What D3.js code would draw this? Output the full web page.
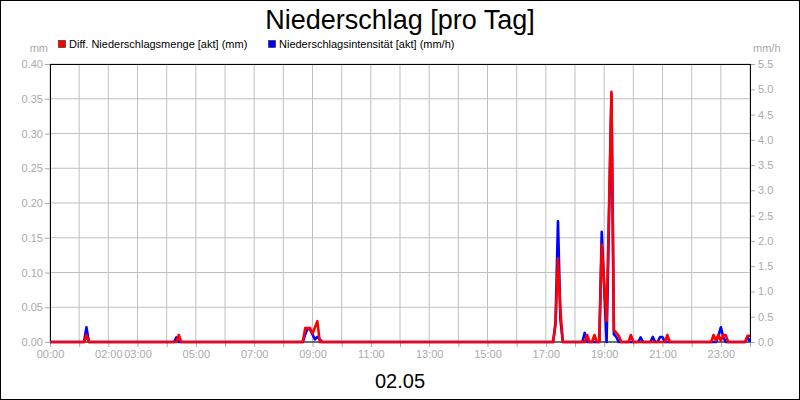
<!DOCTYPE html>
<html>
<head>
<meta charset="utf-8">
<script src="https://cdn.jsdelivr.net/npm/d3@7"></script>
<style>
  body { margin: 0; background: #fff; }
  svg { display: block; font-family: "Liberation Sans", Arial, sans-serif; }
</style>
</head>
<body>
<svg id="chart" width="800" height="400"></svg>
<script>
// Diff. Niederschlagsmenge [akt] (mm) - left axis
const redTimes = ['00:00', '01:10', '01:15', '01:20', '04:20', '04:25', '04:30',
    '08:40', '08:45', '08:50', '08:55', '09:00', '09:10', '09:15',
    '17:15', '17:20', '17:25', '17:30', '17:35',
    '18:20', '18:25', '18:30', '18:35', '18:40', '18:45', '18:50', '18:55', '19:05', '19:15',
    '19:20', '19:25', '19:30', '19:35', '19:50', '19:55', '20:00', '21:05', '21:10', '21:15',
    '22:40', '22:45', '22:50', '22:55', '23:00', '23:05', '23:10', '23:15', '23:50', '23:55', '24:00']
const redValues = [0, 0, 0.01, 0, 0, 0.01, 0,
    0, 0.02, 0.02, 0.02, 0.012, 0.03, 0,
    0, 0.025, 0.12, 0.045, 0,
    0, 0.01, 0, 0, 0.01, 0, 0, 0.14, 0.03, 0.36,
    0.017, 0.013, 0.009, 0, 0, 0.01, 0, 0, 0.01, 0,
    0, 0.01, 0.002, 0.01, 0.002, 0.01, 0.01, 0, 0, 0.009, 0.009]

// Niederschlagsintensität [akt] (mm/h) - right axis
const blueTimes = ['00:00', '01:10', '01:15', '01:20', '04:15', '04:20', '04:25',
    '08:40', '08:45', '08:50', '08:55', '09:00', '09:05', '09:10', '09:15', '09:20',
    '17:15', '17:20', '17:25', '17:30', '17:35',
    '18:15', '18:20', '18:25', '18:50', '18:55', '19:05', '19:15', '19:20', '19:25', '19:30',
    '20:10', '20:15', '20:20', '20:35', '20:40', '20:45', '20:50', '20:55', '21:00', '21:05',
    '22:50', '22:55', '23:00', '23:05', '23:10', '23:50', '23:55', '24:00']
const blueValues = [0, 0, 0.29, 0, 0, 0.09, 0,
    0, 0.15, 0.27, 0.25, 0.15, 0.05, 0.1, 0.05, 0,
    0, 0.4, 2.39, 0.45, 0,
    0, 0.18, 0, 0, 2.18, 0, 4.9, 0.15, 0.1, 0,
    0, 0.09, 0, 0, 0.1, 0, 0, 0.1, 0.1, 0,
    0, 0.12, 0.29, 0.1, 0, 0, 0.1, 0]

const leftTicks = [0, 0.05, 0.10, 0.15, 0.20, 0.25, 0.30, 0.35, 0.40]
const rightTicks = [0, 0.5, 1.0, 1.5, 2.0, 2.5, 3.0, 3.5, 4.0, 4.5, 5.0, 5.5]
const xTickLabels = ['00:00', '02:00', '03:00', '05:00', '07:00', '09:00', '11:00',
    '13:00', '15:00', '17:00', '19:00', '21:00', '23:00']

const gridColor = '#c0c0c0'
const labelColor = '#aaaaaa'

function to_hours(t) {
    let [h, m] = t.split(':').map(Number)
    return h + m / 60
}

let svg = d3.select('#chart')

let xScale = d3.scaleLinear()
    .domain([0, 24])
    .range([50, 750])

let yLeft = d3.scaleLinear()
    .domain([0, 0.40])
    .range([342, 64])

let yRight = d3.scaleLinear()
    .domain([0, 5.5])
    .range([342, 64])

// grid
let grid = svg.append('g')
grid.selectAll('.vgrid')
    .data(xScale.ticks(24))
    .join('line')
    .attr('x1', d => xScale(d)).attr('x2', d => xScale(d))
    .attr('y1', 64).attr('y2', 342)
    .attr('stroke', gridColor)
grid.selectAll('.hgrid')
    .data(leftTicks)
    .join('line')
    .attr('x1', 50).attr('x2', 750)
    .attr('y1', d => yLeft(d)).attr('y2', d => yLeft(d))
    .attr('stroke', gridColor)

// axes
let labelHours = new Map(xTickLabels.map(l => [to_hours(l), l]))

let xAxisGen = d3.axisBottom(xScale)
    .tickValues(xScale.ticks(24))
    .tickSize(5)
    .tickPadding(3)
    .tickFormat(d => labelHours.get(d) || '')

let yLeftGen = d3.axisLeft(yLeft)
    .tickValues(leftTicks)
    .tickSize(5)
    .tickPadding(2)
    .tickFormat(d3.format('.2f'))

let yRightGen = d3.axisRight(yRight)
    .tickValues(rightTicks)
    .tickSize(5)
    .tickPadding(3)
    .tickFormat(d3.format('.1f'))

svg.append('g')
    .attr('transform', 'translate(0, 342)')
    .call(xAxisGen)
svg.append('g')
    .attr('transform', 'translate(50, 0)')
    .call(yLeftGen)
svg.append('g')
    .attr('transform', 'translate(750, 0)')
    .call(yRightGen)

svg.selectAll('.domain').remove()
svg.selectAll('.tick line').attr('stroke', labelColor)
svg.selectAll('.tick text')
    .attr('fill', labelColor)
    .style('font-family', '"Liberation Sans", Arial, sans-serif')
    .style('font-size', '11px')

// plot frame
svg.append('rect')
    .attr('x', 50.5).attr('y', 64.5)
    .attr('width', 700).attr('height', 277.5)
    .attr('fill', 'none')
    .attr('stroke', '#000')

// series
let blueData = blueTimes.map((t, i) => ({h: to_hours(t), v: blueValues[i]}))
let redData = redTimes.map((t, i) => ({h: to_hours(t), v: redValues[i]}))

svg.append('path')
    .datum(blueData)
    .attr('fill', 'none')
    .attr('stroke', '#0000ff')
    .attr('stroke-width', 2.6)
    .attr('stroke-linejoin', 'round')
    .attr('d', d3.line().x(d => xScale(d.h)).y(d => yRight(d.v)))

svg.append('path')
    .datum(redData)
    .attr('fill', 'none')
    .attr('stroke', '#ff0000')
    .attr('stroke-width', 2.6)
    .attr('stroke-linejoin', 'round')
    .attr('d', d3.line().x(d => xScale(d.h)).y(d => yLeft(d.v)))

// unit labels
svg.append('text')
    .attr('x', 48).attr('y', 52)
    .attr('text-anchor', 'end')
    .attr('fill', labelColor)
    .style('font-size', '11px')
    .text('mm')
svg.append('text')
    .attr('x', 753).attr('y', 52)
    .attr('fill', labelColor)
    .style('font-size', '11px')
    .text('mm/h')

// legend
let legend = [
    {label: 'Diff. Niederschlagsmenge [akt] (mm)', color: '#ff0000', x: 58},
    {label: 'Niederschlagsintensität [akt] (mm/h)', color: '#0000ff', x: 268}
]
let lg = svg.append('g')
lg.selectAll('rect')
    .data(legend)
    .join('rect')
    .attr('x', d => d.x + 0.5).attr('y', 40.5)
    .attr('width', 7).attr('height', 7)
    .attr('fill', d => d.color)
    .attr('stroke', '#222')
    .attr('stroke-width', 0.6)
lg.selectAll('text')
    .data(legend)
    .join('text')
    .attr('x', d => d.x + 11).attr('y', 48)
    .attr('fill', '#000')
    .style('font-size', '11px')
    .text(d => d.label)

// titles
svg.append('text')
    .attr('x', 400).attr('y', 29)
    .attr('text-anchor', 'middle')
    .style('font-size', '27px')
    .text('Niederschlag [pro Tag]')
svg.append('text')
    .attr('x', 400).attr('y', 388)
    .attr('text-anchor', 'middle')
    .style('font-size', '20px')
    .text('02.05')

// outer border
svg.append('rect')
    .attr('x', 0.5).attr('y', 0.5)
    .attr('width', 799).attr('height', 399)
    .attr('fill', 'none')
    .attr('stroke', '#000')
</script>
</body>
</html>
